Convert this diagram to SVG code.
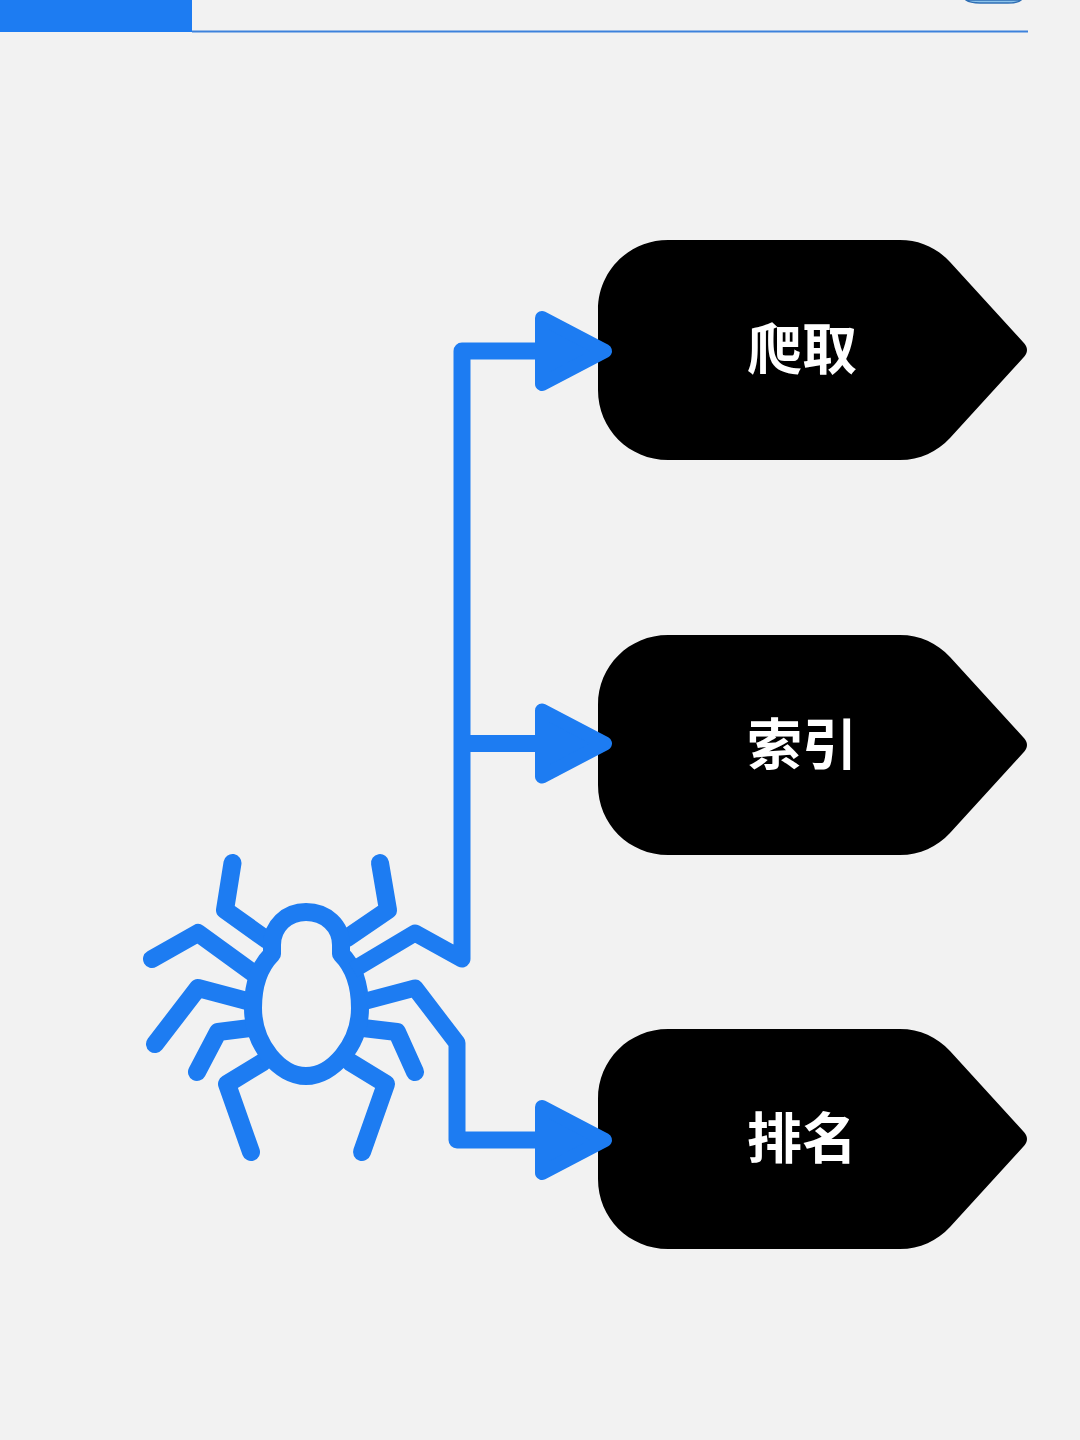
<svg xmlns="http://www.w3.org/2000/svg" width="1080" height="1440" viewBox="0 0 1080 1440">
  <style>
    .leg { fill: none; stroke: #1d7cf2; stroke-width: 18; stroke-linecap: round; stroke-linejoin: round; }
    .conn { fill: none; stroke: #1d7cf2; stroke-width: 17; stroke-linecap: butt; stroke-linejoin: round; }
    .tag { fill: #000000; }
    .label { fill: #ffffff; font-family: "Noto Sans CJK SC", "Noto Sans CJK JP", sans-serif; font-size: 55px; font-weight: 700; text-anchor: middle; }
  </style>
  <defs>
    <marker id="arrow" markerUnits="userSpaceOnUse" markerWidth="90" markerHeight="90" refX="5" refY="45" orient="auto" viewBox="0 0 90 90">
      <path d="M7 12 L70 45 L7 78 Z" fill="#1d7cf2" stroke="#1d7cf2" stroke-width="14" stroke-linejoin="round"/>
    </marker>
    <path id="tag-shape" d="M668 0 H900 C920 0 937 8 950 22 L1023 102 Q1031 110 1023 118 L950 198 C937 212 920 220 900 220 H668 C629 220 598 189 598 150 V70 C598 31 629 0 668 0 Z"/>
  </defs>

  <rect id="background" width="1080" height="1440" fill="#f2f2f2"/>

  <g id="header">
    <rect x="0" y="0" width="192" height="32" fill="#1d7cf2"/>
    <line x1="192" y1="31.5" x2="1028" y2="31.5" stroke="#3d82dc" stroke-width="2"/>
    <path d="M966 0 Q970 3 980 3 H1008 Q1018 3 1021 0 Z" fill="#8cc3ea" stroke="#2f6fb5" stroke-width="1.500"/>
  </g>

  <g id="node-crawl">
    <use href="#tag-shape" class="tag" y="240"/>
    <text class="label" x="802" y="369">爬取</text>
  </g>
  <g id="node-index">
    <use href="#tag-shape" class="tag" y="635"/>
    <text class="label" x="802" y="764">索引</text>
  </g>
  <g id="node-rank">
    <use href="#tag-shape" class="tag" y="1029"/>
    <text class="label" x="802" y="1158">排名</text>
  </g>

  <g id="spider">
    <path class="leg" d="M232.500 863 L225 910 L267 940"/>
    <path class="leg" d="M380 863 L388 910 L347 938"/>
    <path class="leg" d="M152 959 L198 933 L253 973"/>
    <path class="leg" d="M155 1044 L198 988 L247 1001"/>
    <path class="leg" d="M197 1072 L218 1032 L250 1028"/>
    <path class="leg" d="M415 1072 L397 1032 L363 1028"/>
    <path class="leg" d="M251 1152 L227 1084 L263 1062"/>
    <path class="leg" d="M362 1152 L386 1084 L350 1062"/>
    <path d="M306 912 C326 912 341 926 341 945 L341 954 C353 966 360 985 360 1008 C360 1045 332 1076 306 1076 C280 1076 253 1045 253 1008 C253 985 260 966 272 954 L272 945 C272 926 287 912 306 912 Z" fill="#f2f2f2" stroke="#1d7cf2" stroke-width="18" stroke-linejoin="round"/>
  </g>

  <g id="connectors">
    <path class="conn" d="M353 970 L415 933 L462 959 L462 351 L540 351" marker-end="url(#arrow)"/>
    <path class="conn" d="M462 743.500 L540 743.500" marker-end="url(#arrow)"/>
    <path class="conn" d="M366 1001 L415 988 L457 1043 L457 1140 L540 1140" marker-end="url(#arrow)"/>
  </g>
</svg>
